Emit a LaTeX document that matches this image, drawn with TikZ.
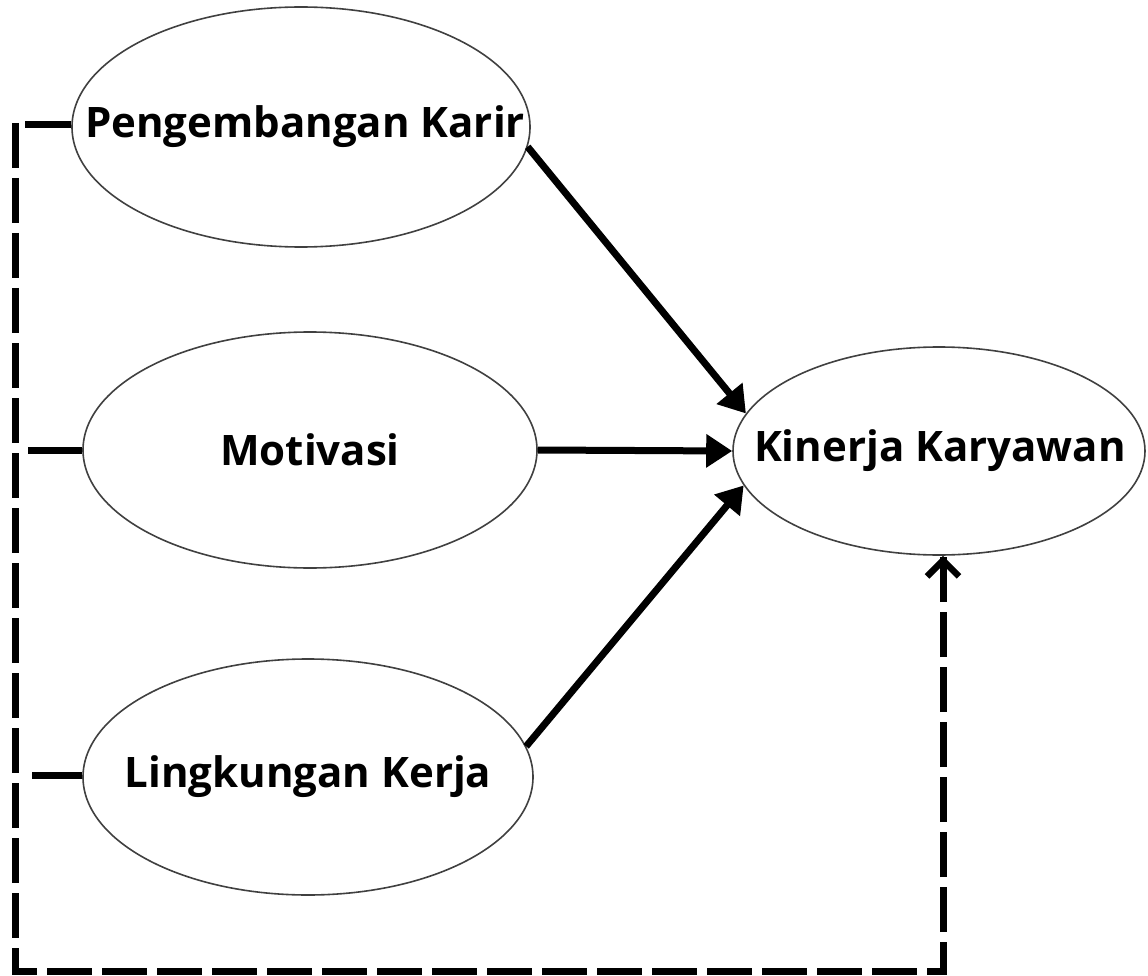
\documentclass[tikz,border=0pt]{standalone}
\usepackage{fontspec}
\setmainfont{Open Sans}
\usepackage{tikz}
\usetikzlibrary{positioning}
\usetikzlibrary{shapes,arrows.meta}

\tikzset{
  construct/.style={draw=black!75,ellipse,line width=1.6pt,inner sep=0pt,
    font=\fontsize{42}{48}\selectfont\bfseries},
  effect/.style={line width=7pt,-{Triangle[length=26pt,width=32pt]}},
  dashline/.style={line width=7pt,dash pattern=on 45pt off 10pt},
  branch/.style={line width=7pt}
}

\begin{document}
\begin{tikzpicture}[x=1pt,y=-1pt]
\useasboundingbox (0,0) rectangle (1148,976);
\node[construct,minimum width=458pt,minimum height=240pt] (karir) at (301,127) {\makebox[0pt]{\hspace*{8pt}Pengembangan Karir}};
\node[construct,minimum width=454pt,minimum height=236pt] (motivasi) at (310,450) {\makebox[0pt]{Motivasi}};
\node[construct,minimum width=450pt,minimum height=236pt] (lingkungan) at (308,777) {\makebox[0pt]{Lingkungan Kerja}};
\node[construct,minimum width=412pt,minimum height=208pt] (kinerja) at (939,451) {\makebox[0pt]{\hspace*{2pt}Kinerja Karyawan}};
% direct paths
\draw[effect] (karir.-5) -- (kinerja.169);
\draw[effect] (motivasi.east) -- (kinerja.west);
\draw[effect] (lingkungan.8) -- (kinerja.190);
% joint path (dashed)
\coordinate (top) at (15,123);
\coordinate (corner1) at (15,971);
\coordinate (corner2) at (943,971);
\draw[dashline] (top) -- (corner1) -- (corner2)
  -- (kinerja.south -| corner2);
\draw[line width=6.5pt,-{Straight Barb[length=16pt,width=32pt]}]
  (943,590) -- (kinerja.south -| corner2);
\coordinate (b1) at (25,125);
\coordinate (b2) at (28,450);
\coordinate (b3) at (32,775);
\draw[branch] (b1) -- (b1 -| karir.west);
\draw[branch] (b2) -- (b2 -| motivasi.west);
\draw[branch] (b3) -- (b3 -| lingkungan.west);
\end{tikzpicture}
\end{document}
